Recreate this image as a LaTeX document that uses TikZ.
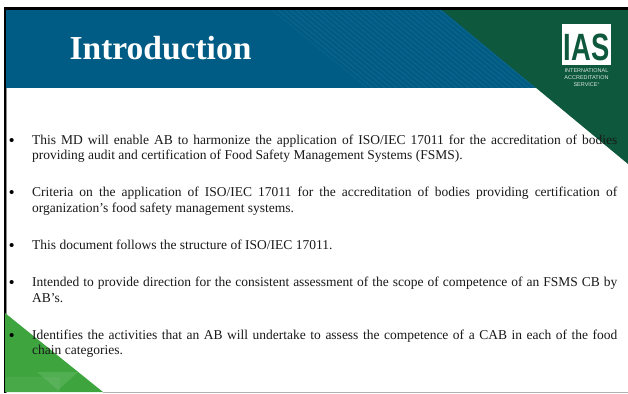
\documentclass[tikz,border=0pt]{standalone}
\usepackage{fontspec}
\usepackage{graphicx}
\setmainfont{Liberation Serif}
\setsansfont{Liberation Sans}
\definecolor{hblue}{RGB}{0,92,132}
\definecolor{hgreen}{RGB}{14,89,62}
\definecolor{lgreen}{RGB}{62,165,62}
\tikzset{x=1pt,y=-1pt,
 bodyline/.style={anchor=base west,inner sep=0pt,font=\fontsize{13.5}{15}\selectfont,text=black!90},
 bul/.style={anchor=base west,inner sep=0pt,font=\fontsize{15}{15}\selectfont\bfseries}}
\begin{document}
\begin{tikzpicture}
\useasboundingbox (0,0) rectangle (628,393);
\fill[white] (0,0) rectangle (628,393);
\fill[hblue] (6,10) rectangle (540,88);
\begin{scope}
\clip (272,10) -- (442,10) -- (537,88) -- (367,88) -- cycle;
\foreach \i in {0,...,50}{
 \draw[white,opacity=.09,line width=.5pt] (170+\i*6,10) -- ++(95,78);
}
\end{scope}
\fill[hgreen] (442,10) -- (628,10) -- (628,164) -- cycle;
\fill[black] (4,7) rectangle (628,10);
\fill[black] (4,7) rectangle (6,393);
\fill[black!45] (6,88) rectangle (6.6,393);
\fill[lgreen] (5,313) -- (103,392) -- (5,392) -- cycle;
\begin{scope}
\clip (5,313) -- (103,392) -- (5,392) -- cycle;
\fill[white,opacity=.1] (37,372) -- (78,372) -- (58,390) -- cycle;
\fill[white,opacity=.05] (6,377) rectangle (60,392);
\end{scope}
\draw[black!30,line width=.7pt] (103,392.3) -- (628,392.3);
\node[anchor=base,inner sep=0pt,text=white,font=\fontsize{33.5}{36}\selectfont\bfseries] (title) at (160.5,60) {Introduction};
\node[fill=white,minimum width=49pt,minimum height=41pt,inner sep=0pt] (logo) at (586.5,44.5) {};
\node[anchor=base,inner sep=0pt,text=hgreen,font=\sffamily\bfseries\fontsize{38}{38}\selectfont] (ias) at (586.5,60.5) {\scalebox{.72}[1]{IAS}};
\node[anchor=base,inner sep=0pt,text=white!85!hgreen,font=\sffamily\fontsize{5.5}{7}\selectfont] (sub1) at (586.5,73) {INTERNATIONAL};
\node[anchor=base,inner sep=0pt,text=white!85!hgreen,font=\sffamily\fontsize{5.5}{7}\selectfont] (sub2) at (586.5,80) {ACCREDITATION};
\node[anchor=base,inner sep=0pt,text=white!85!hgreen,font=\sffamily\fontsize{5.5}{7}\selectfont] (sub3) at (586.5,87) {SERVICE\raisebox{2pt}{\fontsize{2.5}{2.5}\selectfont ®}};
%
\node[bul] (b1) at (9,145) {•};
\node[bodyline] (l1a) at (32,144) {\hbox to 585pt{This MD will enable AB to harmonize the application of ISO/IEC 17011 for the accreditation of bodies}};
\node[bodyline] (l1b) at (32,159) {providing audit and certification of Food Safety Management Systems (FSMS).};
\node[bul] (b2) at (9,197) {•};
\node[bodyline] (l2a) at (32,196) {\hbox to 585pt{Criteria on the application of ISO/IEC 17011 for the accreditation of bodies providing certification of}};
\node[bodyline] (l2b) at (32,212) {organization’s food safety management systems.};
\node[bul] (b3) at (9,250) {•};
\node[bodyline] (l3a) at (32,249) {This document follows the structure of ISO/IEC 17011.};
\node[bul] (b4) at (9,287) {•};
\node[bodyline] (l4a) at (32,286) {\hbox to 585pt{Intended to provide direction for the consistent assessment of the scope of competence of an FSMS CB by}};
\node[bodyline] (l4b) at (32,302) {AB’s.};
\node[bul] (b5) at (9,340) {•};
\node[bodyline] (l5a) at (32,339) {\hbox to 585pt{Identifies the activities that an AB will undertake to assess the competence of a CAB in each of the food}};
\node[bodyline] (l5b) at (32,354) {chain categories.};
\end{tikzpicture}
\end{document}
